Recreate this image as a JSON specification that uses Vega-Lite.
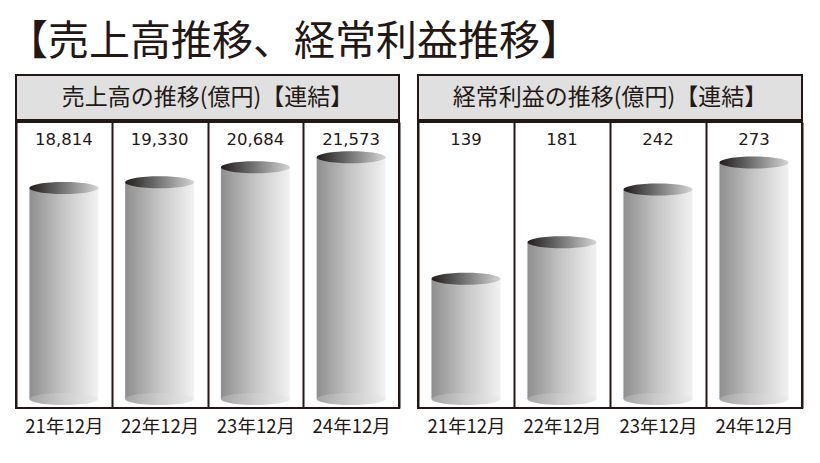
{
  "$schema": "https://vega.github.io/schema/vega-lite/v6.json",
  "background": "white",
  "padding": {"left": 7, "top": 22, "right": 5, "bottom": 5},
  "title": {
    "text": "【売上高推移、経常利益推移】",
    "anchor": "start",
    "font": "Noto Sans CJK JP",
    "fontSize": 41,
    "fontWeight": "normal",
    "color": "#231815",
    "offset": 10,
    "dx": -8
  },
  "config": {
    "view": {"stroke": "#231815", "strokeWidth": 2},
    "text": {"color": "#231815"}
  },
  "spacing": 17,
  "hconcat": [
    {
      "spacing": 0,
      "vconcat": [
        {
          "width": 383,
          "height": 45,
          "view": {"fill": "#e0e0e0", "stroke": "#231815", "strokeWidth": 2},
          "data": {"values": [{"t": "売上高の推移(億円)【連結】"}]},
          "mark": {"type": "text", "font": "Noto Sans CJK JP", "fontSize": 23, "color": "#231815", "baseline": "middle", "align": "center"},
          "encoding": {"text": {"field": "t", "type": "nominal"}}
        },
        {
          "width": 383,
          "height": 286,
          "view": {"stroke": "#231815", "strokeWidth": 2},
          "data": {"values": [
            {"period": "21年12月", "value": 18814},
            {"period": "22年12月", "value": 19330},
            {"period": "23年12月", "value": 20684},
            {"period": "24年12月", "value": 21573}
          ]},
          "encoding": {
            "x": {
              "field": "period", "type": "nominal", "sort": null,
              "scale": {"paddingInner": 0, "paddingOuter": 0},
              "axis": {"title": null, "labelAngle": 0, "ticks": false, "domain": false, "grid": true, "tickBand": "extent", "gridColor": "#231815", "gridWidth": 2, "gridOpacity": 1, "labelFont": "Noto Sans CJK JP", "labelFontSize": 18.5, "labelColor": "#231815", "labelPadding": 9}
            }
          },
          "layer": [
            {
              "mark": {"type": "bar", "width": {"band": 0.72}, "fill": {"gradient": "linear", "x1": 0, "y1": 0, "x2": 1, "y2": 0, "stops": [{"offset": 0, "color": "#8e8e8e"}, {"offset": 0.5, "color": "#c6c6c6"}, {"offset": 1, "color": "#f2f2f2"}]}},
              "encoding": {"y": {"field": "value", "type": "quantitative", "scale": {"domain": [-803, 24710], "nice": false, "zero": false}, "axis": null}}
            },
            {
              "mark": {"type": "point", "filled": true, "strokeWidth": 0, "opacity": 1, "size": 4761, "shape": "M-1,0A1,0.174,0,1,0,1,0A1,0.174,0,1,0,-1,0Z", "fill": {"gradient": "linear", "x1": 0, "y1": 0, "x2": 1, "y2": 0, "stops": [{"offset": 0, "color": "#a4a4a4"}, {"offset": 0.5, "color": "#cccccc"}, {"offset": 1, "color": "#ececec"}]}},
              "encoding": {"y": {"datum": 0, "type": "quantitative"}}
            },
            {
              "mark": {"type": "point", "filled": true, "strokeWidth": 0, "opacity": 1, "size": 4761, "shape": "M-1,0A1,0.174,0,1,0,1,0A1,0.174,0,1,0,-1,0Z", "fill": {"gradient": "linear", "x1": 0, "y1": 0, "x2": 1, "y2": 0, "stops": [{"offset": 0, "color": "#221c1c"}, {"offset": 0.45, "color": "#6e6e6e"}, {"offset": 1, "color": "#d4d4d4"}]}},
              "encoding": {"y": {"field": "value", "type": "quantitative"}}
            },
            {
              "mark": {"type": "text", "font": "DejaVu Sans", "fontSize": 16.5, "color": "#231815", "baseline": "middle"},
              "encoding": {"y": {"value": 18}, "text": {"field": "value", "type": "quantitative", "format": ",d"}}
            }
          ]
        }
      ]
    },
    {
      "spacing": 0,
      "vconcat": [
        {
          "width": 384,
          "height": 45,
          "view": {"fill": "#e0e0e0", "stroke": "#231815", "strokeWidth": 2},
          "data": {"values": [{"t": "経常利益の推移(億円)【連結】"}]},
          "mark": {"type": "text", "font": "Noto Sans CJK JP", "fontSize": 23, "color": "#231815", "baseline": "middle", "align": "center"},
          "encoding": {"text": {"field": "t", "type": "nominal"}}
        },
        {
          "width": 384,
          "height": 286,
          "view": {"stroke": "#231815", "strokeWidth": 2},
          "data": {"values": [
            {"period": "21年12月", "value": 139},
            {"period": "22年12月", "value": 181},
            {"period": "23年12月", "value": 242},
            {"period": "24年12月", "value": 273}
          ]},
          "encoding": {
            "x": {
              "field": "period", "type": "nominal", "sort": null,
              "scale": {"paddingInner": 0, "paddingOuter": 0},
              "axis": {"title": null, "labelAngle": 0, "ticks": false, "domain": false, "grid": true, "tickBand": "extent", "gridColor": "#231815", "gridWidth": 2, "gridOpacity": 1, "labelFont": "Noto Sans CJK JP", "labelFontSize": 18.5, "labelColor": "#231815", "labelPadding": 9}
            }
          },
          "layer": [
            {
              "mark": {"type": "bar", "width": {"band": 0.72}, "fill": {"gradient": "linear", "x1": 0, "y1": 0, "x2": 1, "y2": 0, "stops": [{"offset": 0, "color": "#8e8e8e"}, {"offset": 0.5, "color": "#c6c6c6"}, {"offset": 1, "color": "#f2f2f2"}]}},
              "encoding": {"y": {"field": "value", "type": "quantitative", "scale": {"domain": [-10.4, 319.9], "nice": false, "zero": false}, "axis": null}}
            },
            {
              "mark": {"type": "point", "filled": true, "strokeWidth": 0, "opacity": 1, "size": 4761, "shape": "M-1,0A1,0.174,0,1,0,1,0A1,0.174,0,1,0,-1,0Z", "fill": {"gradient": "linear", "x1": 0, "y1": 0, "x2": 1, "y2": 0, "stops": [{"offset": 0, "color": "#a4a4a4"}, {"offset": 0.5, "color": "#cccccc"}, {"offset": 1, "color": "#ececec"}]}},
              "encoding": {"y": {"datum": 0, "type": "quantitative"}}
            },
            {
              "mark": {"type": "point", "filled": true, "strokeWidth": 0, "opacity": 1, "size": 4761, "shape": "M-1,0A1,0.174,0,1,0,1,0A1,0.174,0,1,0,-1,0Z", "fill": {"gradient": "linear", "x1": 0, "y1": 0, "x2": 1, "y2": 0, "stops": [{"offset": 0, "color": "#221c1c"}, {"offset": 0.45, "color": "#6e6e6e"}, {"offset": 1, "color": "#d4d4d4"}]}},
              "encoding": {"y": {"field": "value", "type": "quantitative"}}
            },
            {
              "mark": {"type": "text", "font": "DejaVu Sans", "fontSize": 16.5, "color": "#231815", "baseline": "middle"},
              "encoding": {"y": {"value": 18}, "text": {"field": "value", "type": "quantitative", "format": ",d"}}
            }
          ]
        }
      ]
    }
  ]
}
